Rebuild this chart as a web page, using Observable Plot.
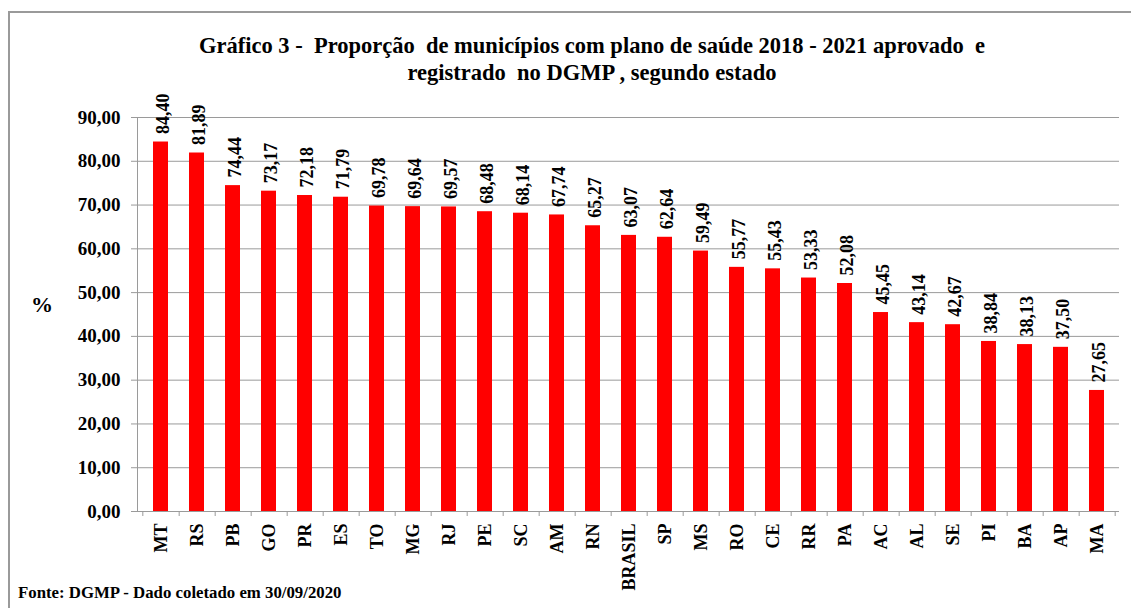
<!DOCTYPE html>
<html><head><meta charset="utf-8">
<script src="https://cdn.jsdelivr.net/npm/d3@7"></script>
<script src="https://cdn.jsdelivr.net/npm/@observablehq/plot@0.6"></script>
<style>
body{margin:0;background:#fff;}
#wrap{position:relative;width:1131px;height:608px;overflow:hidden;font-family:"Liberation Serif","Times New Roman",serif;font-weight:bold;color:#000;}
#border{position:absolute;left:8px;top:11px;width:1300px;height:800px;border-left:2px solid #9a9a9a;border-top:2px solid #9a9a9a;box-sizing:border-box;}
#chart{position:absolute;left:0;top:0;}
.title{position:absolute;left:0;width:1184px;text-align:center;font-size:22.5px;white-space:pre;line-height:1;}
#ylab{position:absolute;left:31px;top:292px;font-size:22px;}
#caption{position:absolute;left:18px;top:583px;font-size:16.8px;white-space:pre;}
</style>
</head><body>
<div id="wrap">
  <div id="border"></div>
  <div id="chart"></div>
  <div class="title" style="top:35px">Gráfico 3 -  Proporção  de municípios com plano de saúde 2018 - 2021 aprovado  e</div>
  <div class="title" style="top:62px">registrado  no DGMP , segundo estado</div>
  <div id="ylab">%</div>
  <div id="caption">Fonte: DGMP - Dado coletado em 30/09/2020</div>
</div>
<script>
const estados = ["MT","RS","PB","GO","PR","ES","TO","MG","RJ","PE","SC","AM","RN","BRASIL","SP","MS","RO","CE","RR","PA","AC","AL","SE","PI","BA","AP","MA"];
const valores = [84.40,81.89,74.44,73.17,72.18,71.79,69.78,69.64,69.57,68.48,68.14,67.74,65.27,63.07,62.64,59.49,55.77,55.43,53.33,52.08,45.45,43.14,42.67,38.84,38.13,37.50,27.65];
const yTicks = [0,10,20,30,40,50,60,70,80,90];

const fmt = v => v.toFixed(2).replace(".", ",");
const data = estados.map((e, i) => ({estado: e, valor: valores[i]}));

const W = 1131, H = 608, mL = 137, mR = 12, mT = 117, mB = 97;
const step = (W - mL - mR) / estados.length;

const chart = Plot.plot({
  width: W, height: H,
  marginLeft: mL, marginRight: mR, marginTop: mT, marginBottom: mB,
  style: {fontFamily: '"Liberation Serif","Times New Roman",serif', fontWeight: "bold", fontSize: "18px", color: "#000", background: "transparent", overflow: "visible"},
  x: {domain: estados, paddingInner: 0.59, paddingOuter: 0.295, label: null},
  y: {domain: [0, 90], label: null},
  marks: [
    Plot.gridY(yTicks, {stroke: "#9a9a9a", strokeOpacity: 1}),
    Plot.barY(data, {x: "estado", y: "valor", fill: "#ff0000"}),
    Plot.ruleY([0], {stroke: "#9a9a9a"}),
    Plot.frame({anchor: "left", stroke: "#9a9a9a"}),
    Plot.axisY(yTicks, {tickFormat: fmt, tickSize: 6, tickPadding: 11, stroke: "#9a9a9a", fill: "#000", label: null, fontSize: 19}),
    Plot.axisX({tickRotate: -90, tickSize: 0, tickPadding: 12, label: null, fontSize: 18, fill: "#000"}),
    Plot.axisX(estados, {tickSize: 5, tickFormat: () => "", dx: step / 2, stroke: "#9a9a9a", label: null}),
    Plot.axisX([estados[0]], {tickSize: 5, tickFormat: () => "", dx: -step / 2, stroke: "#9a9a9a", label: null}),
    Plot.text(data, {x: "estado", y: "valor", text: d => fmt(d.valor), rotate: -90, textAnchor: "start", dy: -8, dx: 2, fontSize: 18, fill: "#000"})
  ]
});
document.getElementById("chart").appendChild(chart);
</script>
</body></html>
